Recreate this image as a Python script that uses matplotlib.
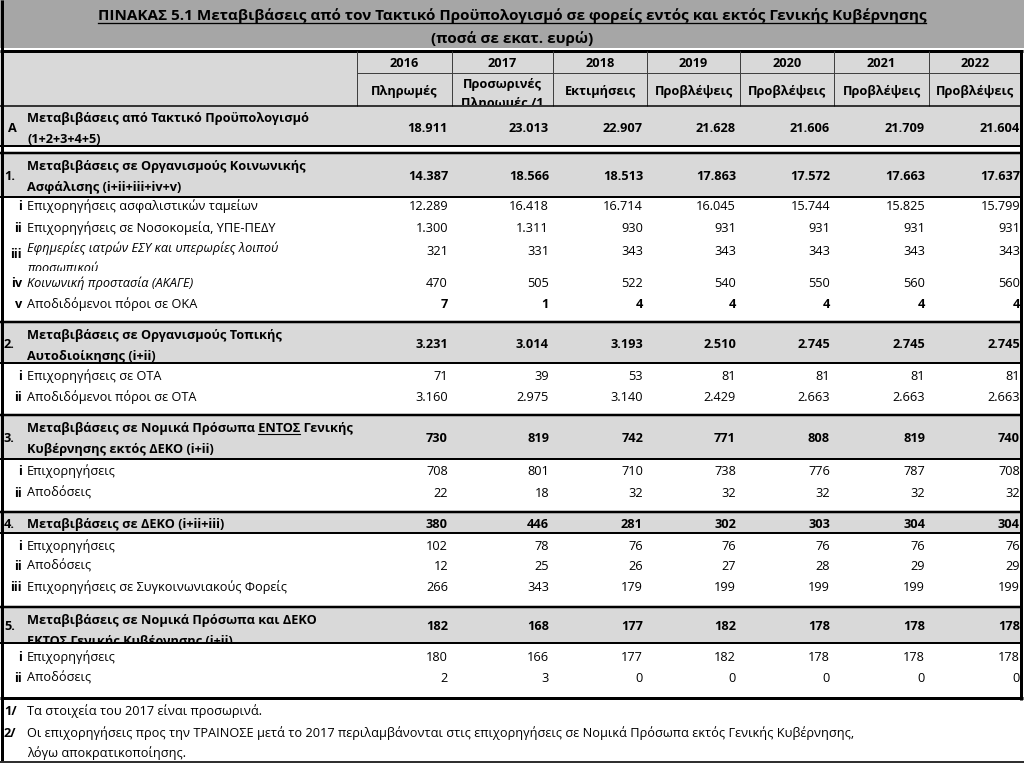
import matplotlib
matplotlib.use("Agg")
import matplotlib.pyplot as plt
from matplotlib.transforms import Bbox

plt.rcParams["font.family"] = ["Open Sans", "DejaVu Sans"]

# ---- data ----
title = "ΠΙΝΑΚΑΣ 5.1 Μεταβιβάσεις από τον Τακτικό Προϋπολογισμό σε φορείς εντός και εκτός Γενικής Κυβέρνησης"
subtitle = "(ποσά σε εκατ. ευρώ)"
years = ["2016", "2017", "2018", "2019", "2020", "2021", "2022"]
kinds = ["Πληρωμές", "Προσωρινές\nΠληρωμές /1", "Εκτιμήσεις", "Προβλέψεις",
         "Προβλέψεις", "Προβλέψεις", "Προβλέψεις"]

total_code = "A"
total_label = ["Μεταβιβάσεις από Τακτικό Προϋπολογισμό", "(1+2+3+4+5)"]
total_values = [18911, 23013, 22907, 21628, 21606, 21709, 21604]

section_codes = ["1.", "2.", "3.", "4.", "5."]
section_labels = [
    ["Μεταβιβάσεις σε Οργανισμούς Κοινωνικής", "Ασφάλισης (i+ii+iii+iv+v)"],
    ["Μεταβιβάσεις σε Οργανισμούς Τοπικής", "Αυτοδιοίκησης (i+ii)"],
    ["Μεταβιβάσεις σε Νομικά Πρόσωπα ΕΝΤΟΣ Γενικής", "Κυβέρνησης εκτός ΔΕΚΟ (i+ii)"],
    ["Μεταβιβάσεις σε ΔΕΚΟ (i+ii+iii)"],
    ["Μεταβιβάσεις σε Νομικά Πρόσωπα και ΔΕΚΟ", "ΕΚΤΟΣ Γενικής Κυβέρνησης (i+ii)"],
]
section_values = [
    [14387, 18566, 18513, 17863, 17572, 17663, 17637],
    [3231, 3014, 3193, 2510, 2745, 2745, 2745],
    [730, 819, 742, 771, 808, 819, 740],
    [380, 446, 281, 302, 303, 304, 304],
    [182, 168, 177, 182, 178, 178, 178],
]

sub_codes = [
    ["i", "ii", "iii", "iv", "v"],
    ["i", "ii"],
    ["i", "ii"],
    ["i", "ii", "iii"],
    ["i", "ii"],
]
sub_labels = [
    ["Επιχορηγήσεις ασφαλιστικών ταμείων",
     "Επιχορηγήσεις σε Νοσοκομεία, ΥΠΕ-ΠΕΔΥ",
     "Εφημερίες ιατρών ΕΣΥ και υπερωρίες λοιπού\nπροσωπικού",
     "Κοινωνική προστασία (ΑΚΑΓΕ)",
     "Αποδιδόμενοι πόροι σε ΟΚΑ"],
    ["Επιχορηγήσεις σε ΟΤΑ", "Αποδιδόμενοι πόροι σε ΟΤΑ"],
    ["Επιχορηγήσεις", "Αποδόσεις"],
    ["Επιχορηγήσεις", "Αποδόσεις", "Επιχορηγήσεις σε Συγκοινωνιακούς Φορείς"],
    ["Επιχορηγήσεις", "Αποδόσεις"],
]
sub_values = [
    [[12289, 16418, 16714, 16045, 15744, 15825, 15799],
     [1300, 1311, 930, 931, 931, 931, 931],
     [321, 331, 343, 343, 343, 343, 343],
     [470, 505, 522, 540, 550, 560, 560],
     [7, 1, 4, 4, 4, 4, 4]],
    [[71, 39, 53, 81, 81, 81, 81],
     [3160, 2975, 3140, 2429, 2663, 2663, 2663]],
    [[708, 801, 710, 738, 776, 787, 708],
     [22, 18, 32, 32, 32, 32, 32]],
    [[102, 78, 76, 76, 76, 76, 76],
     [12, 25, 26, 27, 28, 29, 29],
     [266, 343, 179, 199, 199, 199, 199]],
    [[180, 166, 177, 182, 178, 178, 178],
     [2, 3, 0, 0, 0, 0, 0]],
]
italic_subs = {(0, 2), (0, 3)}
bold_subs = {(0, 4)}

footnote_marks = ["1/", "2/"]
footnotes = ["Τα στοιχεία του 2017 είναι προσωρινά.",
             "Οι επιχορηγήσεις προς την ΤΡΑΙΝΟΣΕ μετά το 2017 περιλαμβάνονται στις επιχορηγήσεις "
             "σε Νομικά Πρόσωπα εκτός Γενικής Κυβέρνησης,\nλόγω αποκρατικοποίησης."]

# ---- layout (pixels) ----
W, H = 1024, 763
col_edges = [357, 452, 553, 647, 740, 834, 929, 1021]
# gray band top/bottom and the row centres of the sub-items, per section
sec_bands = [(153, 197), (322, 363), (415, 459), (512, 533), (607, 643)]
sub_rows = [[205, 227, 250, 282, 303], [375, 396], [470, 492], [545, 565, 586], [656, 677]]
table_bottom = 698

FS = 9.2
TITLE_FS = 11
GRAY = "#d9d9d9"
DARK = "#a6a6a6"
PT = 0.72  # px -> pt


def fmt(v):
    return f"{v:,}".replace(",", ".")


fig = plt.figure(figsize=(W / 100, H / 100), dpi=100)
ax = fig.add_axes([0, 0, 1, 1])
ax.set_xlim(0, W)
ax.set_ylim(H, 0)
ax.axis("off")


def rect(x0, y0, x1, y1, color):
    ax.add_patch(plt.Rectangle((x0, y0), x1 - x0, y1 - y0, facecolor=color,
                               edgecolor="none", zorder=0))


def hline(y, x0=0, x1=1022.5, px=2, color="black"):
    ax.plot([x0, x1], [y, y], color=color, lw=px * PT, solid_capstyle="butt", zorder=3)


def vline(x, y0, y1, px=2, color="black"):
    ax.plot([x, x], [y0, y1], color=color, lw=px * PT, solid_capstyle="butt", zorder=3)


def clip(t, x0, y0, x1, y1):
    a = ax.transData.transform((x0, y1))
    b = ax.transData.transform((x1, y0))
    t.set_clip_on(True)
    t.set_clip_path(None)
    t.set_clip_box(Bbox([a, b]))


def txt(x, y, s, ha="left", weight="normal", style="normal", size=FS, **kw):
    # y is the visual centre of the line; place the baseline a bit below it
    return ax.text(x, y + 0.55 * size, s, ha=ha, va="baseline", fontsize=size,
                   fontweight=weight, fontstyle=style, zorder=4, **kw)


def values_row(y, vals, weight="normal"):
    for i, v in enumerate(vals):
        xr = col_edges[i + 1] - 4 if i < len(vals) - 1 else col_edges[-1] - 1
        txt(xr, y, fmt(v), ha="right", weight=weight)


renderer = fig.canvas.get_renderer()


def width_of(s, **kw):
    t = ax.text(0, 0, s, fontsize=kw.pop("size", FS), **kw)
    bb = t.get_window_extent(renderer)
    t.remove()
    return bb.width


# ---- backgrounds ----
rect(0, 0, W, 48, DARK)
rect(0, 51, 1021, 106, GRAY)
rect(0, 106, 1021, 146, GRAY)
for top, bot in sec_bands:
    rect(0, top, 1021, bot, GRAY)

# ---- title ----
t1 = txt(512, 14, title, ha="center", weight="bold", size=TITLE_FS)
txt(512, 37, subtitle, ha="center", weight="bold", size=TITLE_FS)
bb = t1.get_window_extent(renderer).transformed(ax.transData.inverted())
ax.plot([bb.x0, bb.x1], [22.5, 22.5], color="black", lw=1.3 * PT, zorder=4)

# ---- header ----
hline(51, px=3)
hline(73, col_edges[0], col_edges[-1], px=1, color="#404040")
for x in col_edges[:-1]:
    vline(x, 51, 106, px=1, color="#404040")
for i, (yr, kind) in enumerate(zip(years, kinds)):
    xc = (col_edges[i] + col_edges[i + 1]) / 2
    txt(xc, 62, yr, ha="center", weight="bold")
    lines = kind.split("\n")
    if len(lines) == 1:
        txt(xc, 90, kind, ha="center", weight="bold")
    else:
        for j, ln in enumerate(lines):
            t = txt(xc, 83 + 19 * j, ln, ha="center", weight="bold")
            clip(t, col_edges[i], 74, col_edges[i + 1], 105)
hline(106, px=1.5)

# ---- total row ----
txt(8, 127, total_code, weight="bold")
txt(27, 117, total_label[0], weight="bold")
txt(27, 138, total_label[1], weight="bold")
values_row(127, total_values, weight="bold")
hline(146, px=2)

# ---- sections ----
for s, (top, bot) in enumerate(sec_bands):
    hline(top, px=2.5)
    hline(bot, px=2)
    yc = (top + bot) / 2
    txt(4, yc, section_codes[s], weight="bold")
    lbl = section_labels[s]
    if len(lbl) == 1:
        txt(27, yc, lbl[0], weight="bold")
    else:
        txt(27, top + 12, lbl[0], weight="bold")
        t = txt(27, top + 33, lbl[1], weight="bold")
        clip(t, 0, top, 1021, bot)
        if "ΕΝΤΟΣ" in lbl[0]:
            pre = lbl[0].split("ΕΝΤΟΣ")[0] + "ΕΝΤΟΣ"
            x1 = 27 + width_of(pre, fontweight="bold")
            x0 = x1 - width_of("ΕΝΤΟΣ", fontweight="bold")
            ax.plot([x0, x1], [top + 19, top + 19], color="black", lw=1.1 * PT, zorder=4)
    values_row(yc, section_values[s], weight="bold")

    for k, y in enumerate(sub_rows[s]):
        style = "italic" if (s, k) in italic_subs else "normal"
        lines = sub_labels[s][k].split("\n")
        if len(lines) == 1:
            txt(22, y, sub_codes[s][k], ha="right", weight="bold")
            txt(27, y, lines[0], style=style)
        else:
            txt(22, y + 3, sub_codes[s][k], ha="right", weight="bold")
            for j, ln in enumerate(lines):
                t = txt(27, y - 3 + 20 * j, ln, style=style)
                clip(t, 0, y - 14, 1021, y + 21)
        weight = "bold" if (s, k) in bold_subs else "normal"
        values_row(y, sub_values[s][k], weight=weight)

# ---- frame ----
hline(table_bottom, px=3)
vline(1021, 51, table_bottom + 1.5, px=3)
vline(1.5, 0, H, px=3)
hline(761.5, x1=W, px=2, color="#303030")

# ---- footnotes ----
for i, (m, note) in enumerate(zip(footnote_marks, footnotes)):
    y = 710 + 22 * i
    txt(4, y, m, weight="bold")
    for j, ln in enumerate(note.split("\n")):
        txt(27, y + 20 * j, ln)

fig.savefig("out.png", dpi=100)
